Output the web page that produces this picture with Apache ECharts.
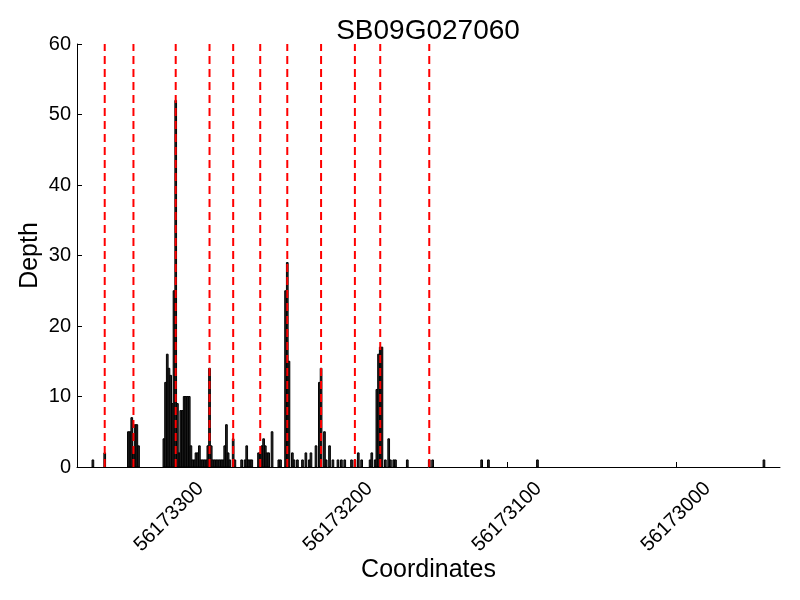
<!DOCTYPE html>
<html><head><meta charset="utf-8">
<script src="https://cdn.jsdelivr.net/npm/echarts@6/dist/echarts.min.js"></script>
<style>html,body{margin:0;padding:0;background:#fff}#c{width:800px;height:600px}</style>
</head><body><div id="c"></div>
<script>
const titleText = "SB09G027060";
const xAxisName = "Coordinates";
const yAxisName = "Depth";
const xTicks = [56173300, 56173200, 56173100, 56173000];
const yTicks = [0, 10, 20, 30, 40, 50, 60];
const positions = [
56173345,56173338,56173324,56173323,56173322,56173321,56173320,56173319,56173318,
56173303,56173302,56173301,56173300,56173299,56173298,56173297,56173296,56173295,56173294,
56173293,56173292,56173291,56173290,56173289,56173288,56173287,56173286,56173285,56173284,
56173283,56173282,56173281,56173280,56173279,56173278,56173277,56173276,56173275,56173274,
56173273,56173272,56173271,56173270,56173269,56173268,56173267,56173266,56173265,56173264,
56173262,56173261,56173257,56173255,56173254,56173253,56173252,56173251,56173247,56173246,
56173245,56173244,56173243,56173242,56173241,56173239,56173235,56173234,56173231,56173230,
56173229,56173227,56173226,56173224,56173221,56173219,56173217,56173216,56173213,56173211,
56173210,56173208,56173207,56173205,56173203,56173200,56173198,56173196,56173192,56173190,
56173188,56173186,56173181,56173180,56173178,56173177,56173176,56173175,56173174,56173172,
56173170,56173169,56173167,56173166,56173159,56173146,56173144,56173115,56173111,56173082,
56172948];
const depths = [
1,2,5,5,7,2,6,6,3,
4,12,16,14,13,9,25,52,9,2,
8,8,10,10,10,10,3,1,1,2,
2,3,1,1,1,1,3,14,3,1,
1,1,1,1,1,1,3,6,2,1,
4,1,1,1,3,1,1,1,2,2,
3,4,3,2,2,5,1,1,25,29,
15,2,1,1,1,2,1,2,3,12,
14,5,1,3,1,1,1,1,1,1,
2,1,1,2,1,11,16,17,17,1,
4,1,1,1,1,1,1,1,1,1,
1];
const redLines = [56173338,56173321,56173296,56173276,56173262,56173246,56173230,56173210,56173190,56173175,56173146];

const xMin = 56172938.5, xMax = 56173354.4;
const FONT = "Liberation Sans";

const chart = echarts.init(document.getElementById('c'), null, {renderer:'canvas'});
const barData = positions.map((p,i)=>[p, depths[i]]);
chart.setOption({
  animation:false,
  backgroundColor:'#fff',
  title:{text:titleText, left:423, top:12, textAlign:'center',
    textStyle:{fontFamily:FONT, fontSize:28, fontWeight:'normal', color:'#000'}},
  grid:{left:77, right:20, top:44, bottom:133, containLabel:false},
  xAxis:{type:'value', inverse:true, min:xMin, max:xMax,
    name:xAxisName, nameLocation:'middle', nameGap:91, nameMoveOverlap:false,
    nameTextStyle:{fontFamily:FONT, fontSize:25, color:'#000', verticalAlign:'top'},
    axisLine:{onZero:false, lineStyle:{color:'#000', width:1}},
    axisTick:{inside:true, length:5, customValues:xTicks, lineStyle:{color:'#000'}},
    axisLabel:{customValues:xTicks, rotate:45, align:'center', verticalAlign:'middle', margin:50,
      fontFamily:FONT, fontSize:20, color:'#000', formatter:v=>String(v)},
    splitLine:{show:false}},
  yAxis:{type:'value', min:0, max:60, interval:10,
    name:yAxisName, nameLocation:'middle', nameGap:34, nameRotate:90, nameMoveOverlap:false,
    nameTextStyle:{fontFamily:FONT, fontSize:25, color:'#000'},
    axisLine:{show:true, onZero:false, lineStyle:{color:'#000', width:1}},
    axisTick:{show:true, inside:true, length:5, lineStyle:{color:'#000'}},
    axisLabel:{fontFamily:FONT, fontSize:20, color:'#000', margin:6},
    splitLine:{show:false}},
  series:[
    {type:'custom', data:barData, z:2, clip:true,
      renderItem:function(params, api){
        const a = api.coord([api.value(0)+0.5, 0]);
        const b = api.coord([api.value(0)-0.5, api.value(1)]);
        return {type:'rect', shape:{x:Math.min(a[0],b[0]), y:b[1], width:Math.abs(b[0]-a[0]), height:a[1]-b[1]},
          style:{fill:'#2a2a2a', stroke:'#000', lineWidth:1}};
      }},
    {type:'custom', data:redLines.map(v=>[v]), z:3, clip:true,
      renderItem:function(params, api){
        const a = api.coord([api.value(0), 0]);
        const b = api.coord([api.value(0), 60]);
        return {type:'line', shape:{x1:a[0], y1:a[1], x2:b[0], y2:b[1]},
          style:{stroke:'#ff0000', lineWidth:2, lineDash:[8,5]}};
      }}
  ]
});
</script></body></html>
